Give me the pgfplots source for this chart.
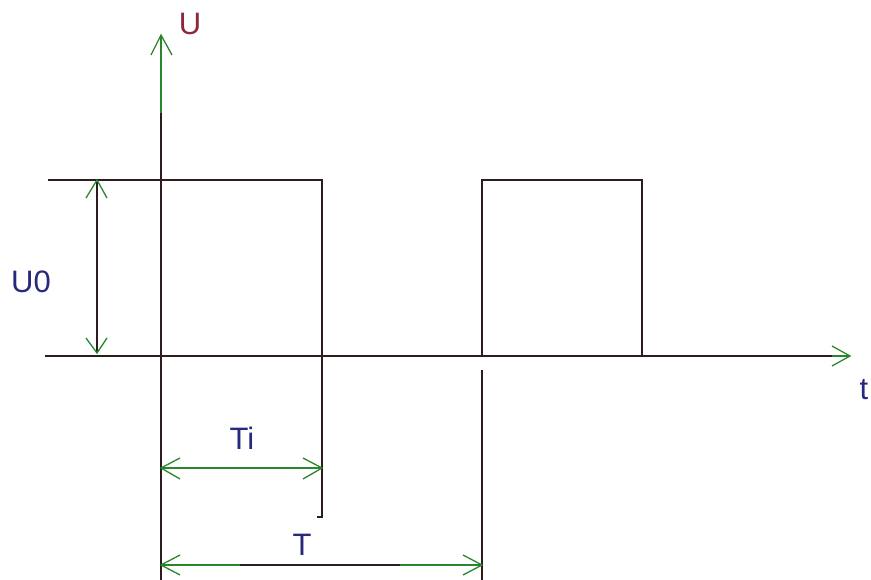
\documentclass[border=0pt]{standalone}
\usepackage{fontspec}
\setmainfont{Liberation Sans}
\usepackage{pgfplots}
\pgfplotsset{compat=1.18}
\definecolor{ln}{RGB}{45,28,28}
\definecolor{gr}{RGB}{40,135,45}
\definecolor{bl}{RGB}{40,40,125}
\definecolor{rd}{RGB}{140,40,55}
\tikzset{lbl/.style={font=\fontsize{31}{31}\selectfont, inner sep=0pt}}
\begin{document}
\begin{tikzpicture}
\useasboundingbox (0,0) rectangle (871pt,580pt);
\begin{axis}[
  at={(0,0)}, anchor=south west,
  scale only axis, width=871pt, height=580pt,
  xmin=0, xmax=871, ymin=0, ymax=580, y dir=reverse,
  hide axis, clip=false,
  every axis plot/.append style={no marks, line width=1.8pt, line join=miter},
]
% signal
\addplot[ln] coordinates {(48,180) (322,180) (322,517) (317,517)};
\addplot[ln] coordinates {(482,356) (482,180) (642,180) (642,356)};
\addplot[ln] coordinates {(482,370) (482,580)};
% x axis
\addplot[ln] coordinates {(45,356) (832,356)};
\addplot[gr] coordinates {(832,356) (850,356)};
\addplot[gr, line width=1.3pt] coordinates {(832,346) (850,356) (832,366)};
% y axis
\addplot[ln] coordinates {(161,113) (161,580)};
\addplot[gr] coordinates {(161,35) (161,113)};
\addplot[gr, line width=1.3pt] coordinates {(151,55) (161,35) (172,55)};
% U0 arrow
\addplot[ln] coordinates {(97,182) (97,352)};
\addplot[gr, line width=1.3pt] coordinates {(86,198) (97,180) (107,198)};
\addplot[gr, line width=1.3pt] coordinates {(86,338) (97,353) (107,338)};
% Ti arrow
\addplot[gr] coordinates {(161,468) (322,468)};
\addplot[gr, line width=1.3pt] coordinates {(180,458) (161,468) (180,479)};
\addplot[gr, line width=1.3pt] coordinates {(303,458) (322,468) (303,479)};
% T arrow
\addplot[gr] coordinates {(161,565) (240,565)};
\addplot[ln] coordinates {(240,565) (400,565)};
\addplot[gr] coordinates {(400,565) (482,565)};
\addplot[gr, line width=1.3pt] coordinates {(180,555) (161,565) (180,575)};
\addplot[gr, line width=1.3pt] coordinates {(463,555) (482,565) (463,575)};
% labels
\node[lbl, text=rd] at (axis cs:190,24) {U};
\node[lbl, text=bl] at (axis cs:31,282) {U0};
\node[lbl, text=bl] at (axis cs:864,390) {t};
\node[lbl, text=bl] at (axis cs:242,438) {Ti};
\node[lbl, text=bl] at (axis cs:302,545) {T};
\end{axis}
\end{tikzpicture}
\end{document}
